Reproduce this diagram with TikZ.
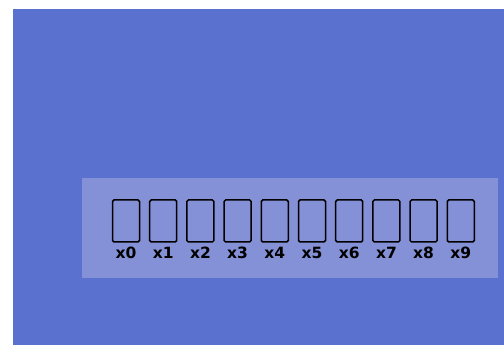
\documentclass[tikz,border=0pt]{standalone}
\usepackage{fontspec}
\setmainfont{DejaVu Sans}
\definecolor{bgblue}{RGB}{91,113,208}
\definecolor{panel}{RGB}{133,145,214}
\begin{document}
\begin{tikzpicture}[x=1pt,y=1pt,
  cell/.style={draw=black,line width=1.5pt,rounded corners=1.5pt,minimum width=27pt,minimum height=42pt,inner sep=0pt},
  lbl/.style={font=\bfseries\fontsize{15.5}{17}\selectfont,inner sep=0pt,anchor=base}]
\useasboundingbox (0,0) rectangle (504,345);
\fill[bgblue] (13,0) rectangle (504,336);
\fill[panel] (81.5,66.5) rectangle (497.5,166.5);
\foreach \i in {0,...,9}{
  \node[cell] (c\i) at ({126+37.2*\i},124) {};
  \node[lbl] (l\i) at ({126+37.2*\i},86) {x\i};
}
\end{tikzpicture}
\end{document}
